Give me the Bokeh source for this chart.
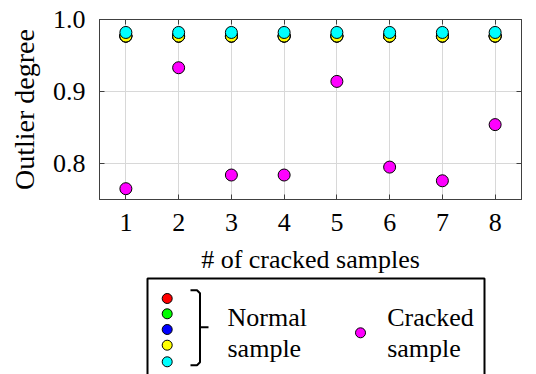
from bokeh.plotting import figure
from bokeh.layouts import column
from bokeh.models import Range1d, FixedTicker, LinearAxis, PrintfTickFormatter, CustomJSTickFormatter
from bokeh.core.properties import value
from bokeh.embed import file_html
from bokeh.resources import INLINE

# ---- data ----
samples = [1, 2, 3, 4, 5, 6, 7, 8]
normal_red = [0.977, 0.977, 0.977, 0.977, 0.977, 0.977, 0.977, 0.977]
normal_green = [0.977, 0.977, 0.977, 0.977, 0.977, 0.977, 0.977, 0.977]
normal_blue = [0.977, 0.977, 0.977, 0.977, 0.977, 0.977, 0.977, 0.977]
normal_yellow = [0.977, 0.977, 0.977, 0.977, 0.977, 0.977, 0.977, 0.977]
normal_cyan = [0.982, 0.982, 0.982, 0.982, 0.982, 0.982, 0.982, 0.982]
cracked = [0.765, 0.933, 0.784, 0.784, 0.914, 0.795, 0.776, 0.854]
normal_colors = ["#ff0000", "#00ff00", "#0000ff", "#ffff00", "#00ffff"]
cracked_color = "#ff00ff"
y_ticks = [0.8, 0.9, 1.0]
x_label = "# of cracked samples"
y_label = "Outlier degree"
legend_labels = [["Normal", "sample"], ["Cracked", "sample"]]

FONT = "Liberation Serif"
FS = "26px"
AXC = "#404040"

p = figure(width=536, height=276, output_backend="svg", toolbar_location=None,
           x_range=Range1d(0.5, 8.5), y_range=Range1d(0.75, 1.0),
           min_border_left=99, min_border_right=15, min_border_top=19, min_border_bottom=73)
p.outline_line_color = AXC
p.outline_line_width = 1

for ax in (p.xaxis[0], p.yaxis[0]):
    ax.major_tick_in = 5
    ax.major_tick_out = 0
    ax.minor_tick_in = 0
    ax.minor_tick_out = 0
    ax.axis_line_color = AXC
    ax.major_tick_line_color = AXC
    ax.major_label_text_font = FONT
    ax.major_label_text_font_size = FS
    ax.major_label_text_color = "black"
    ax.axis_label_text_font = FONT
    ax.axis_label_text_font_size = FS
    ax.axis_label_text_font_style = "normal"
    ax.axis_label_text_color = "black"

p.xaxis.ticker = FixedTicker(ticks=samples)
p.yaxis.ticker = FixedTicker(ticks=y_ticks)
p.yaxis.formatter = PrintfTickFormatter(format="%.1f")
p.xaxis.axis_label = x_label
p.yaxis.axis_label = y_label
p.yaxis.axis_label_text_font_size = "28px"
p.xaxis.major_label_standoff = 14
p.xaxis.axis_label_standoff = 11
p.yaxis.major_label_standoff = 14
p.yaxis.axis_label_standoff = 10

blank = CustomJSTickFormatter(code="return ''")
for loc, tk in (("above", samples), ("right", y_ticks)):
    a = LinearAxis(ticker=FixedTicker(ticks=tk), formatter=blank, major_tick_in=5, major_tick_out=0,
                   minor_tick_in=0, minor_tick_out=0, major_label_standoff=0,
                   axis_line_color=AXC, major_tick_line_color=AXC)
    p.add_layout(a, loc)

p.xgrid.ticker = FixedTicker(ticks=samples)
p.ygrid.ticker = FixedTicker(ticks=y_ticks)
p.grid.grid_line_color = "#d8d8d8"
p.grid.grid_line_width = 1

for ys, c in zip([normal_red, normal_green, normal_blue, normal_yellow, normal_cyan], normal_colors):
    p.scatter(samples, ys, size=12, fill_color=c, line_color="black", line_width=1)
p.scatter(samples, cracked, size=12, fill_color=cracked_color, line_color="black", line_width=1)

# ---- legend panel (coordinates are page pixels) ----
lg = figure(width=536, height=98, output_backend="svg", toolbar_location=None,
            x_range=Range1d(99, 521), y_range=Range1d(374, 276),
            min_border_left=99, min_border_right=15, min_border_top=0, min_border_bottom=0,
            outline_line_color=None)
lg.axis.visible = False
lg.grid.visible = False
lg.line([147, 147, 484, 484], [390, 278, 278, 390], line_color="black", line_width=2)

dot_y = [298, 313.3, 329, 344.7, 361.3]
lg.scatter([166.7] * len(normal_colors), dot_y, size=10, fill_color=normal_colors,
           line_color="black", line_width=1)
lg.multi_line([[190, 196.5, 199.5, 199.5, 196.5, 190], [199.5, 208]],
              [[289.7, 289.7, 292.7, 361.7, 364.7, 364.7], [326.7, 326.7]],
              line_color="black", line_width=2)
lg.scatter([360], [332.3], size=10, fill_color=cracked_color, line_color="black", line_width=1)

for x0, lines in zip([227, 386.7], legend_labels):
    lg.text([x0, x0], [317, 348], text=lines, text_font=value(FONT), text_font_size=FS,
            text_baseline="alphabetic", text_align="left", text_color="black")

layout = column(p, lg)
open("out.html", "w").write(file_html(layout, INLINE))
